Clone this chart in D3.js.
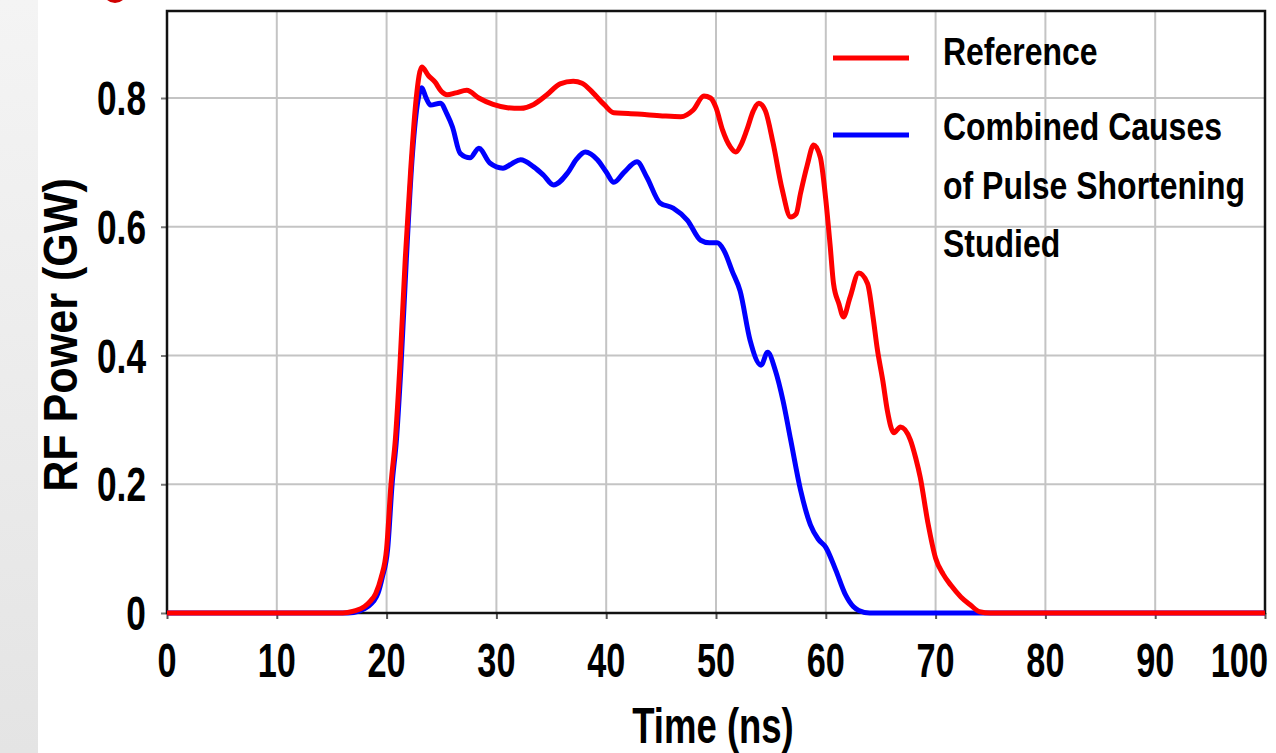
<!DOCTYPE html>
<html>
<head>
<meta charset="utf-8">
<script src="https://cdn.jsdelivr.net/npm/d3@7"></script>
<style>
  html, body { margin: 0; padding: 0; background: #fff; overflow: hidden; }
  svg { display: block; }
</style>
</head>
<body>
<svg id="chart" width="1276" height="753"></svg>
<script>
// RF output power vs time for two pulses
const xTicks = [0, 10, 20, 30, 40, 50, 60, 70, 80, 90, 100];
const yTicks = [0, 0.2, 0.4, 0.6, 0.8];
const yTickLabels = ["0", "0.2", "0.4", "0.6", "0.8"];

const seriesNames = ["Reference", "Combined Causes\nof Pulse Shortening\nStudied"];
const seriesColors = ["#ff0000", "#0000ff"];

const refTime = [0, 16, 17, 18, 18.5, 19, 19.5, 20, 20.4, 20.8, 21.2, 21.7, 22.2, 22.7, 23.2, 23.8, 24.4, 25.0, 25.5,
  26.3, 27.3, 28.4, 29.7, 31.0, 32.2, 33.4, 34.6, 35.8, 37.0, 37.8, 38.8, 39.8, 40.7, 42.0, 43.7, 45.3, 46.8,
  47.9, 48.9, 49.5, 50.0, 50.6, 51.3, 51.8, 52.3, 52.8, 53.4, 53.9, 54.5, 55.2, 56.0, 56.8, 57.3, 57.7, 58.3,
  58.9, 59.5, 60.0, 60.4, 60.7, 61.2, 61.6, 62.2, 63.0, 63.8, 64.3, 64.7, 65.2, 65.6, 66.2, 66.8, 67.7, 68.2,
  68.6, 69.3, 70.0, 70.7, 71.4, 72.3, 73.2, 74.0, 75, 100];
const refPower = [0, 0, 0.003, 0.01, 0.018, 0.03, 0.055, 0.1, 0.2, 0.27, 0.38, 0.55, 0.69, 0.8, 0.848, 0.835, 0.825, 0.81, 0.805,
  0.808, 0.812, 0.8, 0.79, 0.785, 0.784, 0.79, 0.805, 0.822, 0.826, 0.823, 0.808, 0.79, 0.777, 0.776, 0.774, 0.772, 0.771,
  0.781, 0.803, 0.8, 0.785, 0.75, 0.724, 0.716, 0.728, 0.75, 0.78, 0.792, 0.78, 0.73, 0.66, 0.615, 0.62, 0.652, 0.695,
  0.727, 0.708, 0.642, 0.57, 0.512, 0.48, 0.46, 0.49, 0.528, 0.512, 0.46, 0.409, 0.36, 0.315, 0.28, 0.289, 0.269, 0.24,
  0.211, 0.14, 0.085, 0.06, 0.043, 0.025, 0.012, 0.002, 0, 0];

const combTime = [0, 16.5, 17.5, 18.3, 18.8, 19.2, 19.6, 20.1, 20.5, 20.9, 21.3, 21.8, 22.3, 22.8, 23.2, 23.6, 24.0, 24.9, 25.5, 26.0,
  26.7, 27.6, 28.4, 29.4, 30.6, 31.4, 32.2, 33.4, 34.3, 35.2, 36.5, 37.3, 38.1, 39.2, 40.0, 40.7, 41.6, 42.8, 43.7,
  44.9, 46.1, 47.4, 48.6, 49.4, 50.1, 50.7, 51.5, 52.2, 53.1, 54.1, 54.7, 55.4, 56.1, 56.8, 57.7, 58.6, 59.3, 60.0,
  60.9, 61.8, 62.5, 63.0, 64, 100];
const combPower = [0, 0, 0.003, 0.01, 0.018, 0.03, 0.055, 0.1, 0.2, 0.27, 0.38, 0.55, 0.7, 0.79, 0.816, 0.8, 0.789, 0.792, 0.775, 0.755,
  0.714, 0.707, 0.722, 0.699, 0.691, 0.698, 0.704, 0.693, 0.68, 0.665, 0.684, 0.705, 0.716, 0.704, 0.685, 0.669, 0.684, 0.701, 0.677,
  0.637, 0.629, 0.61, 0.579, 0.575, 0.575, 0.564, 0.53, 0.5, 0.424, 0.385, 0.405, 0.377, 0.33, 0.269, 0.191, 0.137, 0.115, 0.102,
  0.067, 0.028, 0.01, 0.004, 0, 0];

const svg = d3.select("#chart");
const W = 1276, H = 753;
const plot = { left: 167, right: 1265, top: 11, bottom: 613 };
const FONT = "'Liberation Sans', Arial, sans-serif";

// slide backdrop: soft grey band on the left edge
const defs = svg.append("defs");
const grad = defs.append("linearGradient").attr("id", "band").attr("x1", 0).attr("x2", 0).attr("y1", 0).attr("y2", 1);
grad.append("stop").attr("offset", "0%").attr("stop-color", "#f4f4f4");
grad.append("stop").attr("offset", "100%").attr("stop-color", "#e4e4e4");
svg.append("rect").attr("x", 0).attr("y", 0).attr("width", W).attr("height", H).attr("fill", "#fff");
svg.append("rect").attr("x", 0).attr("y", 0).attr("width", 38).attr("height", H).attr("fill", "url(#band)");
svg.append("circle").attr("cx", 115).attr("cy", -9).attr("r", 12).attr("fill", "#d00000");

const x = d3.scaleLinear().domain([0, 100]).range([plot.left, plot.right]);
const y = d3.scaleLinear().domain([0, (plot.bottom - plot.top) / 643.75]).range([plot.bottom, plot.top]);

// grid
const grid = svg.append("g");
grid.selectAll("line.vx").data(xTicks.slice(1, -1)).join("line")
  .attr("x1", d => x(d)).attr("x2", d => x(d)).attr("y1", plot.top).attr("y2", plot.bottom)
  .attr("stroke", "#c4c4c4").attr("stroke-width", 2);
grid.selectAll("line.hy").data(yTicks.slice(1)).join("line")
  .attr("x1", plot.left).attr("x2", plot.right).attr("y1", d => y(d)).attr("y2", d => y(d))
  .attr("stroke", "#c4c4c4").attr("stroke-width", 2);

// axes with small outward ticks
const xAxis = d3.axisBottom(x).tickValues(xTicks).tickSize(6).tickFormat("");
const yAxis = d3.axisLeft(y).tickValues(yTicks).tickSize(6).tickFormat("");
svg.append("g").attr("transform", `translate(0,${plot.bottom})`).call(xAxis)
  .call(g => g.select(".domain").remove())
  .call(g => g.selectAll(".tick line").attr("stroke", "#555").attr("stroke-width", 2));
svg.append("g").attr("transform", `translate(${plot.left},0)`).call(yAxis)
  .call(g => g.select(".domain").remove())
  .call(g => g.selectAll(".tick line").attr("stroke", "#777").attr("stroke-width", 2));

// frame
svg.append("rect").attr("x", plot.left).attr("y", plot.top)
  .attr("width", plot.right - plot.left).attr("height", plot.bottom - plot.top)
  .attr("fill", "none").attr("stroke", "#111").attr("stroke-width", 2.5);

// condensed bold text helper
function label(g, tx, ty, str, size, anchor, sx, rot) {
  return g.append("text")
    .attr("transform", `translate(${tx},${ty})${rot ? " rotate(" + rot + ")" : ""} scale(${sx},1)`)
    .attr("text-anchor", anchor)
    .attr("font-family", FONT).attr("font-weight", "bold")
    .attr("font-size", size).attr("fill", "#000")
    .text(str);
}

const labels = svg.append("g");
xTicks.forEach(t => {
  const el = label(labels, x(t), 677, String(t), 49, "middle", 0.7);
  // keep the last label inside the page edge
  const half = el.node().getBBox().width * 0.7 / 2;
  const cx = Math.min(x(t), W - 8 - half);
  el.attr("transform", `translate(${cx},677) scale(0.7,1)`);
});
yTicks.forEach((t, i) => label(labels, 146, y(t) + 17, yTickLabels[i], 49, "end", 0.72));
label(labels, 713, 743, "Time (ns)", 50, "middle", 0.73);
label(labels, 77, 335, "RF Power (GW)", 49, "middle", 0.88, -90);

// series
const line = d3.line().x(d => x(d[0])).y(d => y(d[1])).curve(d3.curveMonotoneX);
const series = [
  { times: combTime, values: combPower, color: seriesColors[1] },
  { times: refTime, values: refPower, color: seriesColors[0] }
];
series.forEach(s => {
  svg.append("path")
    .datum(s.times.map((t, i) => [t, s.values[i]]))
    .attr("d", line)
    .attr("fill", "none").attr("stroke", s.color)
    .attr("stroke-width", 5).attr("stroke-linejoin", "round");
});

// legend
const legend = svg.append("g");
const legendRows = [{ y: 58, lines: seriesNames[0].split("\n"), base: 65 },
                    { y: 135, lines: seriesNames[1].split("\n"), base: 140 }];
legendRows.forEach((r, i) => {
  legend.append("line").attr("x1", 833).attr("x2", 909).attr("y1", r.y).attr("y2", r.y)
    .attr("stroke", seriesColors[i]).attr("stroke-width", 5);
  r.lines.forEach((t, j) => label(legend, 943, r.base + j * 58.5, t, 39, "start", 0.82));
});
</script>
</body>
</html>
